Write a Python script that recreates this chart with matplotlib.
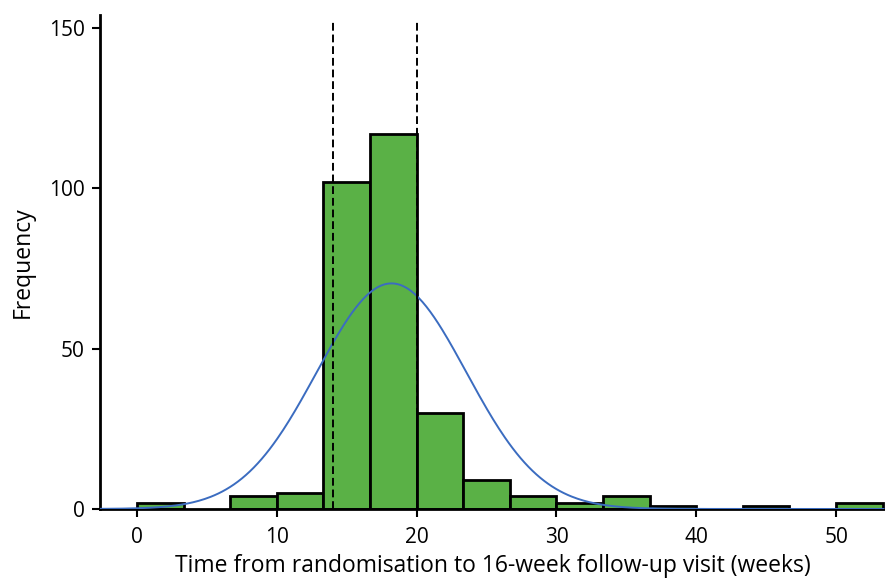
import numpy as np
import matplotlib
matplotlib.use("Agg")
from matplotlib import pyplot as plt

plt.rcParams['font.family'] = ['Open Sans', 'DejaVu Sans']

# histogram data
bin_width = 10 / 3
bin_starts = [i * bin_width for i in range(16)]
counts = [2, 0, 4, 5, 102, 117, 30, 9, 4, 2, 4, 1, 0, 1, 0, 2]

# fitted normal curve
mean_weeks = 18.2
sd_weeks = 5.35

# window limits (dashed lines)
window = [14, 20]

fig = plt.figure(figsize=(8.85, 5.83), dpi=100)
ax = fig.add_axes([0.113, 0.127, 0.887, 0.847])

# empty bins are not drawn
xb = [b for b, c in zip(bin_starts, counts) if c > 0]
cb = [c for c in counts if c > 0]
ax.bar(xb, cb, width=bin_width, align='edge',
       color='#5ab146', edgecolor='black', linewidth=2, zorder=2)

n = sum(counts)
xs = np.linspace(-2.6, 53.4, 400)
ys = n * bin_width / (sd_weeks * np.sqrt(2 * np.pi)) * np.exp(-(xs - mean_weeks) ** 2 / (2 * sd_weeks ** 2))
ax.plot(xs, ys, color='#3b6cc0', linewidth=1.4, zorder=3)

for w in window:
    ax.plot([w, w], [0, 152.5], color='black', linestyle=(0, (4, 2)), linewidth=1.4, zorder=4)

ax.set_xlim(-2.65, 53.5)
ax.set_ylim(0, 154)
ax.set_xticks([0, 10, 20, 30, 40, 50])
ax.set_yticks([0, 50, 100, 150])
ax.spines['top'].set_visible(False)
ax.spines['right'].set_visible(False)
ax.spines['left'].set_linewidth(2)
ax.spines['bottom'].set_linewidth(2)
ax.tick_params(width=1.5, length=6, labelsize=15)
ax.tick_params(axis='x', pad=7)
ax.tick_params(axis='y', pad=5)
ax.set_xlabel('Time from randomisation to 16-week follow-up visit (weeks)', fontsize=16.5, labelpad=4)
ax.set_ylabel('Frequency', fontsize=16.5, labelpad=10)

fig.savefig('out.png', dpi=100)
